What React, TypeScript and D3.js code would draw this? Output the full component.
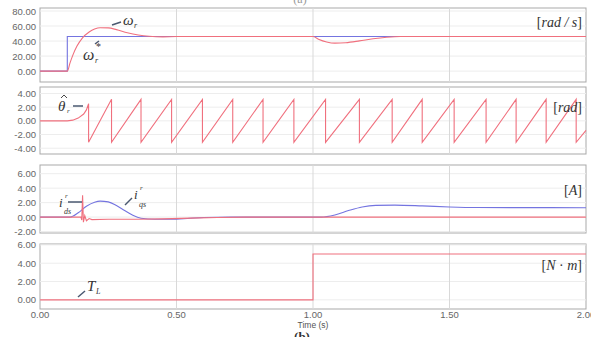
import * as d3 from "d3";

type Pt = [number, number];

// time axis
const timeTicks = [0, 0.5, 1.0, 1.5, 2.0];

// panel 1 : speed [rad/s]
const speedTicks = [0, 20, 40, 60, 80];
const speedRef: Pt[] = [[0, 0], [0.1, 0], [0.1, 46], [2.0, 46]];
const speedAct: Pt[] = [
  [0, 0], [0.1, 0], [0.11, 11], [0.12, 21], [0.135, 33], [0.155, 44], [0.18, 52], [0.2, 56],
  [0.22, 57.8], [0.25, 57.5], [0.28, 55.2], [0.32, 51], [0.36, 48], [0.4, 46.3], [0.45, 45.6],
  [0.5, 46], [1.0, 46], [1.02, 42.5], [1.05, 38.8], [1.08, 37.2], [1.12, 37.8], [1.17, 40.2],
  [1.22, 43], [1.27, 45], [1.32, 46], [2.0, 46],
];

// panel 2 : rotor angle estimate [rad]
const thetaStart: Pt[] = [[0, 0], [0.1, 0], [0.12, 0.1], [0.14, 0.4], [0.16, 1.0], [0.17, 1.6], [0.178, 2.5]];
const thetaWraps = [0.178, 0.262, 0.37, 0.482, 0.595, 0.706, 0.817, 0.93, 1.046, 1.17, 1.29, 1.4, 1.517, 1.634, 1.744, 1.854, 1.964];
const thetaEnd: Pt = [2.0, -1.4];
const thetaTicks = [-4, -2, 0, 2, 4];

// panel 3 : currents [A]
const currentTicks = [-2, 0, 2, 4, 6];
const iqs: Pt[] = [
  [0, 0], [0.11, 0], [0.14, 0.6], [0.17, 1.5], [0.2, 2.05], [0.22, 2.2], [0.25, 2.1], [0.28, 1.6],
  [0.31, 0.9], [0.34, 0.25], [0.37, -0.15], [0.42, -0.3], [0.48, -0.3], [0.54, -0.2], [0.6, -0.05],
  [0.7, 0], [1.03, 0], [1.08, 0.3], [1.13, 0.9], [1.18, 1.4], [1.23, 1.62], [1.3, 1.66], [1.4, 1.55],
  [1.5, 1.4], [1.6, 1.32], [2.0, 1.3],
];
const ids: Pt[] = [
  [0, 0], [0.15, 0], [0.153, -0.4], [0.156, 3.0], [0.159, -0.7], [0.164, 0.2], [0.17, -0.5],
  [0.18, -0.2], [0.19, -0.35], [0.25, -0.3], [0.35, -0.3],
  [0.45, -0.25], [0.55, -0.15], [0.65, -0.05], [0.75, 0], [2.0, 0],
];

// panel 4 : load torque [N.m]
const torqueTicks = [0, 2, 4, 6];
const torque: Pt[] = [[0, 0], [1.0, 0], [1.0, 5], [2.0, 5]];

const RED = "#f0707e";
const BLUE = "#7474e0";
const INK = "#333";
const LEADER = "#4a5870";

const width = 591;
const height = 337;
const left = 40;
const right = 586;

const x = d3.scaleLinear().domain([0, 2]).range([left, right]);

const panels = [
  { top: 8, bottom: 82, domain: [-14.5, 84], ticks: speedTicks },
  { top: 87, bottom: 154, domain: [-4.85, 4.95], ticks: thetaTicks },
  { top: 165, bottom: 233, domain: [-2.2, 7.2], ticks: currentTicks },
  { top: 244, bottom: 309, domain: [-1, 6.1], ticks: torqueTicks },
].map((p) => ({ ...p, y: d3.scaleLinear().domain(p.domain).range([p.bottom, p.top]) }));

function sawtooth(): Pt[] {
  const pts: Pt[] = [...thetaStart];
  thetaWraps.forEach((t, i) => {
    if (i > 0) pts.push([t, Math.PI]);
    pts.push([t, -Math.PI]);
  });
  pts.push(thetaEnd);
  return pts;
}

function Panel({ idx, series }: { idx: number; series: { data: Pt[]; color: string; smooth?: boolean }[] }) {
  const p = panels[idx];
  const y = p.y;
  return (
    <g>
      <rect x={left} y={p.top} width={right - left} height={p.bottom - p.top} fill="#fff" stroke="#a9a9a9" />
      {p.ticks.map((t) => (
        <g key={t}>
          <line x1={left} x2={right} y1={y(t)} y2={y(t)} stroke="#ededed" />
          <text x={left - 4} y={y(t) + 3.5} textAnchor="end" fontSize="9.5" fill="#666">{t.toFixed(2)}</text>
        </g>
      ))}
      {timeTicks.slice(1, -1).map((t) => (
        <line key={t} x1={x(t)} x2={x(t)} y1={p.top} y2={p.bottom} stroke="#d9d9d9" />
      ))}
      {series.map((s, i) => {
        const line = d3.line<Pt>().x((d) => x(d[0])).y((d) => y(d[1]))
          .curve(s.smooth ? d3.curveMonotoneX : d3.curveLinear);
        return <path key={i} d={line(s.data) ?? ""} fill="none" stroke={s.color} strokeWidth={1.1} />;
      })}
    </g>
  );
}

const serif = "'Liberation Serif', 'DejaVu Serif', serif";

export default function App() {
  const bottom = panels[3].bottom;
  return (
    <svg width={width} height={height} viewBox={`0 0 ${width} ${height}`} style={{ position: "absolute", left: 0, top: 0, background: "#fff" }} fontFamily="'Liberation Sans', Arial, sans-serif">
      <text x={300} y={3} textAnchor="middle" fontSize="12" fontFamily={serif} fill="#999">(a)</text>
      <Panel idx={0} series={[{ data: speedRef, color: BLUE }, { data: speedAct, color: RED, smooth: true }]} />
      <Panel idx={1} series={[{ data: sawtooth(), color: RED }]} />
      <Panel idx={2} series={[{ data: iqs, color: BLUE, smooth: true }, { data: ids, color: RED }]} />
      <Panel idx={3} series={[{ data: torque, color: RED }]} />

      {timeTicks.map((t) => (
        <text key={t} x={x(t)} y={bottom + 9} textAnchor="middle" fontSize="9.5" fill="#666">{t.toFixed(2)}</text>
      ))}
      <text x={x(1)} y={bottom + 19} textAnchor="middle" fontSize="8.5" fill="#555">Time (s)</text>
      <text x={302} y={341} textAnchor="middle" fontSize="13" fontWeight="bold" fontFamily={serif} fill="#333">(b)</text>

      <g fontFamily={serif} fontStyle="italic" fill={INK}>
        {/* speed annotations */}
        <line x1={112} y1={25} x2={121} y2={22} stroke={LEADER} strokeWidth={1.5} />
        <text x={123} y={25} fontSize="15">ω</text>
        <text x={134} y={28} fontSize="8">r</text>
        <line x1={95} y1={44} x2={99} y2={41} stroke={LEADER} strokeWidth={1.5} />
        <text x={83} y={60} fontSize="16">ω</text>
        <text x={95} y={63} fontSize="8">r</text>
        <text x={96} y={50} fontSize="10" fontStyle="normal">*</text>
        <text x={582} y={27} textAnchor="end" fontSize="14">
          <tspan fontStyle="normal">[</tspan>rad / s<tspan fontStyle="normal">]</tspan>
        </text>

        {/* angle annotations */}
        <text x={58} y={111} fontSize="15">θ</text>
        <path d="M61,98 L64,95 L67,98" fill="none" stroke={INK} strokeWidth={0.9} />
        <text x={67} y={113} fontSize="7">r</text>
        <line x1={73} y1={106} x2={83} y2={106} stroke={LEADER} strokeWidth={1.5} />
        <text x={582} y={112} textAnchor="end" fontSize="14">
          <tspan fontStyle="normal">[</tspan>rad<tspan fontStyle="normal">]</tspan>
        </text>

        {/* current annotations */}
        <text x={59} y={207} fontSize="13">i</text>
        <text x={65} y={198} fontSize="7">r</text>
        <text x={64} y={214} fontSize="8">ds</text>
        <line x1={68} y1={202} x2={82} y2={202} stroke={LEADER} strokeWidth={1.5} />
        <line x1={125} y1={205} x2={132} y2={198} stroke={LEADER} strokeWidth={1.5} />
        <text x={134} y={199} fontSize="13">i</text>
        <text x={140} y={190} fontSize="7">r</text>
        <text x={139} y={207} fontSize="8">qs</text>
        <text x={582} y={195} textAnchor="end" fontSize="14">
          <tspan fontStyle="normal">[</tspan>A<tspan fontStyle="normal">]</tspan>
        </text>

        {/* torque annotations */}
        <line x1={78} y1={297} x2={85} y2={291} stroke={LEADER} strokeWidth={1.5} />
        <text x={87} y={291} fontSize="15">T</text>
        <text x={96} y={294} fontSize="8">L</text>
        <text x={582} y={270} textAnchor="end" fontSize="14">
          <tspan fontStyle="normal">[</tspan>N<tspan fontStyle="normal"> · </tspan>m<tspan fontStyle="normal">]</tspan>
        </text>
      </g>
    </svg>
  );
}
